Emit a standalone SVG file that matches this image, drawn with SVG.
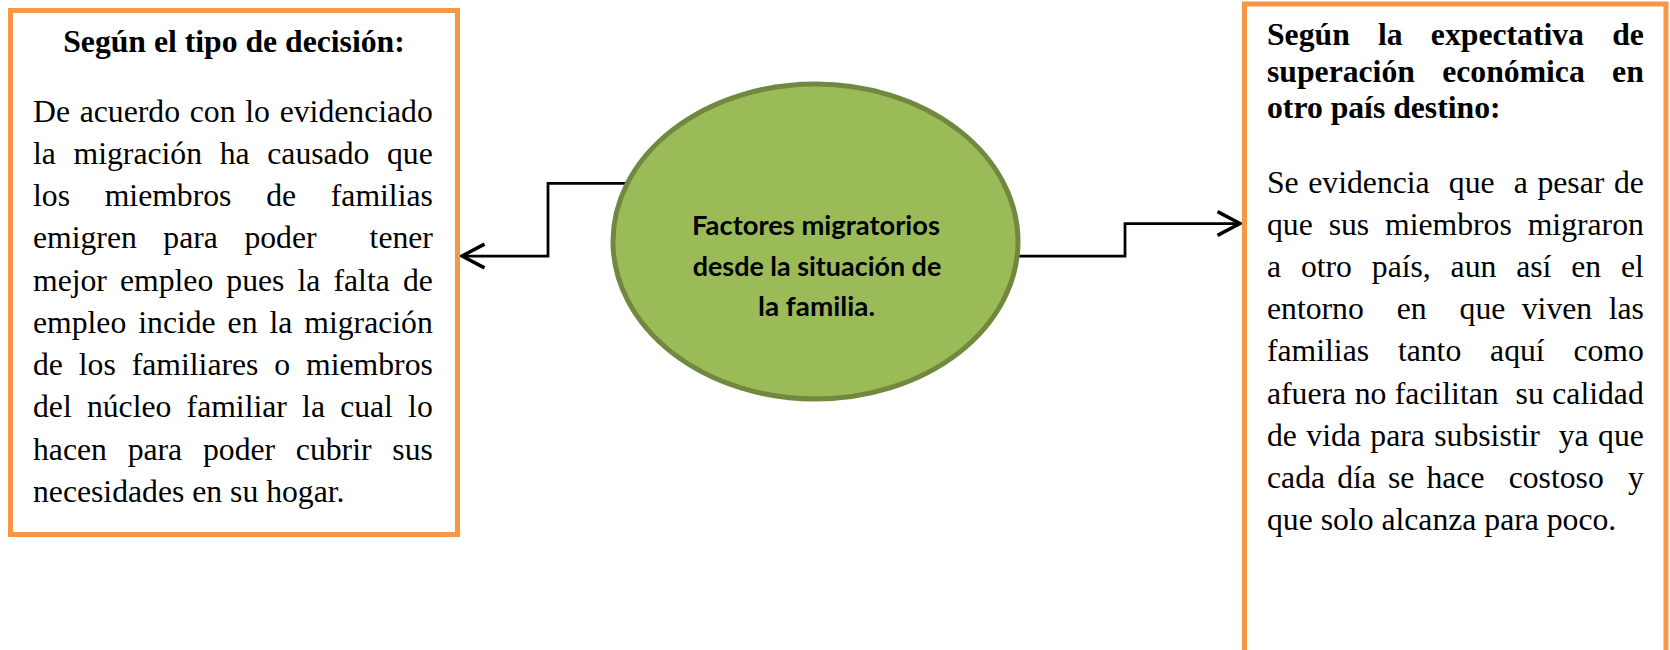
<svg xmlns="http://www.w3.org/2000/svg" width="1670" height="650" viewBox="0 0 1670 650">
<style>
.box{fill:#FFFFFF;stroke:#F79646;stroke-width:5}
.t{font-family:"Liberation Serif","Times New Roman",serif;font-size:31.7px;fill:#000}
.h{font-weight:bold}
.conn{fill:none;stroke:#000;stroke-width:2.75}
.ell{fill:#9BBB59;stroke:#71893F;stroke-width:5}
.et{font-family:Lato,"Open Sans",sans-serif;font-weight:bold;font-size:26px;fill:#000;text-anchor:middle}
</style>
<defs>
<marker id="arr" markerUnits="userSpaceOnUse" markerWidth="30" markerHeight="30" refX="0" refY="0" viewBox="-22 -12 24 24" orient="auto" overflow="visible">
<path d="M-18,-9.5 L0,0 L-18,9.5" fill="none" stroke="#000" stroke-width="2.75"/>
</marker>
</defs>
<rect width="1670" height="650" fill="#FFFFFF"/>
<g id="connectors">
<path class="conn" d="M626,183.3 H548 V256 H462" marker-end="url(#arr)"/>
<path class="conn" d="M1019,256 H1125 V223.5 H1240" marker-end="url(#arr)"/>
</g>
<g id="left-box">
<rect class="box" x="10.5" y="10.5" width="447" height="524"/>
<text class="t h" x="234" y="52" text-anchor="middle">Según el tipo de decisión:</text>
<text class="t" x="33" y="121.5" word-spacing="1.84">De acuerdo con lo evidenciado</text>
<text class="t" x="33" y="163.75" word-spacing="9.76">la migración ha causado que</text>
<text class="t" x="33" y="206" word-spacing="26.8">los miembros de familias</text>
<text class="t" x="33" y="248.25" word-spacing="18.6">emigren para poder&#160; tener</text>
<text class="t" x="33" y="290.5" word-spacing="5.17">mejor empleo pues la falta de</text>
<text class="t" x="33" y="332.75" word-spacing="4.04">empleo incide en la migración</text>
<text class="t" x="33" y="375" word-spacing="7.99">de los familiares o miembros</text>
<text class="t" x="33" y="417.25" word-spacing="7.28">del núcleo familiar la cual lo</text>
<text class="t" x="33" y="459.5" word-spacing="12.85">hacen para poder cubrir sus</text>
<text class="t" x="33" y="501.75">necesidades en su hogar.</text>
</g>
<g id="center-node">
<ellipse class="ell" cx="815.5" cy="241.5" rx="202.5" ry="157.5"/>
<text class="et" x="816" y="235" textLength="248" lengthAdjust="spacingAndGlyphs">Factores migratorios</text>
<text class="et" x="817" y="275.5" textLength="248.5" lengthAdjust="spacingAndGlyphs">desde la situación de</text>
<text class="et" x="816.5" y="316" textLength="117" lengthAdjust="spacingAndGlyphs">la familia.</text>
</g>
<g id="right-box">
<rect class="box" x="1244.5" y="4" width="421.5" height="700"/>
<text class="t h" x="1267" y="45" word-spacing="20.3">Según la expectativa de</text>
<text class="t h" x="1267" y="81.6" word-spacing="19.4">superación económica en</text>
<text class="t h" x="1267" y="118.2">otro país destino:</text>
<text class="t" x="1267" y="192.5" word-spacing="1.67">Se evidencia&#160; que&#160; a pesar de</text>
<text class="t" x="1267" y="234.7" word-spacing="7.98">que sus miembros migraron</text>
<text class="t" x="1267" y="276.9" word-spacing="11.92">a otro país, aun así en el</text>
<text class="t" x="1267" y="319.1" word-spacing="8.54">entorno&#160; en&#160; que viven las</text>
<text class="t" x="1267" y="361.3" word-spacing="20.9">familias tanto aquí como</text>
<text class="t" x="1267" y="403.5" word-spacing="0.57">afuera no facilitan&#160; su calidad</text>
<text class="t" x="1267" y="445.7" word-spacing="1.5">de vida para subsistir&#160; ya que</text>
<text class="t" x="1267" y="487.9" word-spacing="4.18">cada día se hace&#160; costoso&#160; y</text>
<text class="t" x="1267" y="530.1">que solo alcanza para poco.</text>
</g>
</svg>
